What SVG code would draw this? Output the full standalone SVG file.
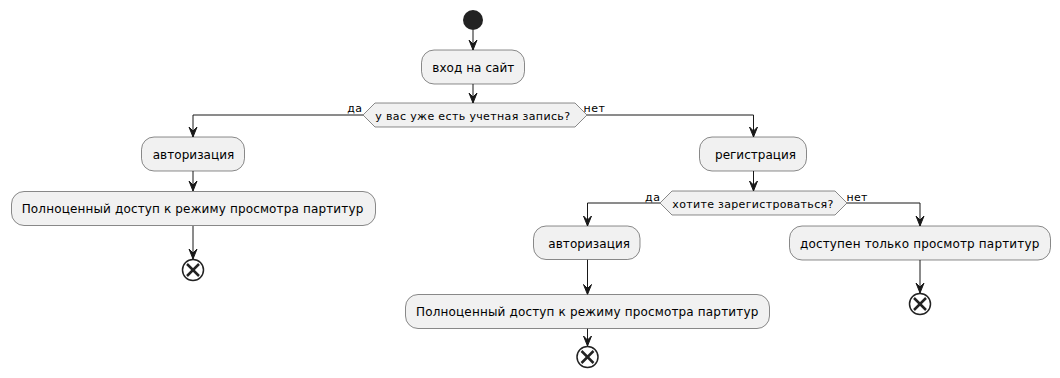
<svg xmlns="http://www.w3.org/2000/svg" width="1060" height="378" viewBox="0 0 1060 378">
  <style>
    .act { fill: #F1F1F1; stroke: #181818; stroke-width: 0.5; }
    .t12 { font-family: "DejaVu Sans", sans-serif; font-size: 12px; fill: #000; }
    .t11 { font-family: "DejaVu Sans", sans-serif; font-size: 11px; fill: #000; }
    .edge { fill: none; stroke: #181818; stroke-width: 1; }
    .head { fill: #181818; stroke: #181818; stroke-width: 1; }
    .stop circle { fill: none; stroke: #222222; stroke-width: 1.5; }
    .stop line { stroke: #222222; stroke-width: 2.5; }
  </style>
  <defs>
    <polygon id="ah" class="head" points="-4,-10 0,0 4,-10 0,-6"/>
    <g id="stopmark" class="stop">
      <circle cx="0" cy="0" r="10.5"/>
      <line x1="-6" y1="-6" x2="6" y2="6"/>
      <line x1="-6" y1="6" x2="6" y2="-6"/>
    </g>
  </defs>

  <rect width="1060" height="378" fill="#FFFFFF"/>

  <!-- connectors -->
  <g id="connectors">
    <line class="edge" x1="473" y1="30" x2="473" y2="50"/>
    <use href="#ah" x="473" y="50"/>
    <line class="edge" x1="473" y1="84" x2="473" y2="103"/>
    <use href="#ah" x="473" y="103"/>

    <!-- first decision: yes branch -->
    <polyline class="edge" points="363,115 193,115 193,137"/>
    <use href="#ah" x="193" y="137"/>
    <text class="t11" x="347.3" y="112" textLength="14.7" lengthAdjust="spacing">да</text>
    <line class="edge" x1="193" y1="171" x2="193" y2="191"/>
    <use href="#ah" x="193" y="191"/>
    <line class="edge" x1="193" y1="226" x2="193" y2="259"/>
    <use href="#ah" x="193" y="259"/>

    <!-- first decision: no branch -->
    <polyline class="edge" points="587,115 753.5,115 753.5,137"/>
    <use href="#ah" x="753.5" y="137"/>
    <text class="t11" x="583.5" y="112" textLength="21.5" lengthAdjust="spacing">нет</text>
    <line class="edge" x1="753.5" y1="171" x2="753.5" y2="191"/>
    <use href="#ah" x="753.5" y="191"/>

    <!-- second decision: yes branch -->
    <polyline class="edge" points="660,203 587.5,203 587.5,226"/>
    <use href="#ah" x="587.5" y="226"/>
    <text class="t11" x="645" y="201" textLength="15" lengthAdjust="spacing">да</text>
    <line class="edge" x1="587.5" y1="259.5" x2="587.5" y2="294.5"/>
    <use href="#ah" x="587.5" y="294.5"/>
    <line class="edge" x1="587.5" y1="328.5" x2="587.5" y2="346"/>
    <use href="#ah" x="587.5" y="346"/>

    <!-- second decision: no branch -->
    <polyline class="edge" points="847,203 920,203 920,226"/>
    <use href="#ah" x="920" y="226"/>
    <text class="t11" x="846.5" y="201" textLength="21" lengthAdjust="spacing">нет</text>
    <line class="edge" x1="920" y1="260" x2="920" y2="293"/>
    <use href="#ah" x="920" y="293"/>
  </g>

  <!-- start -->
  <g id="start">
    <circle cx="473" cy="20" r="10" fill="#222222"/>
  </g>

  <g id="enter-site">
    <rect class="act" x="421.5" y="50" width="103" height="34" rx="12.5"/>
    <text class="t12" x="432.3" y="71.5" textLength="82" lengthAdjust="spacing">вход на сайт</text>
  </g>

  <g id="has-account">
    <polygon class="act" points="363,115 375,103 575,103 587,115 575,127 375,127"/>
    <text class="t11" x="375.3" y="119.5" textLength="194.7" lengthAdjust="spacing">у вас уже есть учетная запись?</text>
  </g>

  <g id="login-1">
    <rect class="act" x="141.5" y="137" width="103" height="34" rx="12.5"/>
    <text class="t12" x="152.7" y="158.5" textLength="81.6" lengthAdjust="spacing">авторизация</text>
  </g>

  <g id="full-access-1">
    <rect class="act" x="11.5" y="191.5" width="364" height="34" rx="12.5"/>
    <text class="t12" x="21.7" y="213" textLength="341.6" lengthAdjust="spacing">Полноценный доступ к режиму просмотра партитур</text>
  </g>

  <g id="stop-1">
    <use href="#stopmark" x="193" y="270"/>
  </g>

  <g id="register">
    <rect class="act" x="699.5" y="137" width="107" height="34" rx="12.5"/>
    <text class="t12" x="715" y="158.5" textLength="81" lengthAdjust="spacing">регистрация</text>
  </g>

  <g id="want-register">
    <polygon class="act" points="660,203 672,191 835,191 847,203 835,215 672,215"/>
    <text class="t11" x="672.3" y="207.5" textLength="161" lengthAdjust="spacing">хотите зарегистроваться?</text>
  </g>

  <g id="login-2">
    <rect class="act" x="533.5" y="226" width="106.5" height="33.5" rx="12.5"/>
    <text class="t12" x="548.3" y="247.5" textLength="81.7" lengthAdjust="spacing">авторизация</text>
  </g>

  <g id="full-access-2">
    <rect class="act" x="405.5" y="294.5" width="364" height="34" rx="12.5"/>
    <text class="t12" x="416" y="316" textLength="342.3" lengthAdjust="spacing">Полноценный доступ к режиму просмотра партитур</text>
  </g>

  <g id="stop-2">
    <use href="#stopmark" x="587.5" y="357"/>
  </g>

  <g id="view-only">
    <rect class="act" x="789.5" y="226" width="261" height="34" rx="12.5"/>
    <text class="t12" x="800" y="247.5" textLength="239.3" lengthAdjust="spacing">доступен только просмотр партитур</text>
  </g>

  <g id="stop-3">
    <use href="#stopmark" x="920" y="304"/>
  </g>
</svg>
